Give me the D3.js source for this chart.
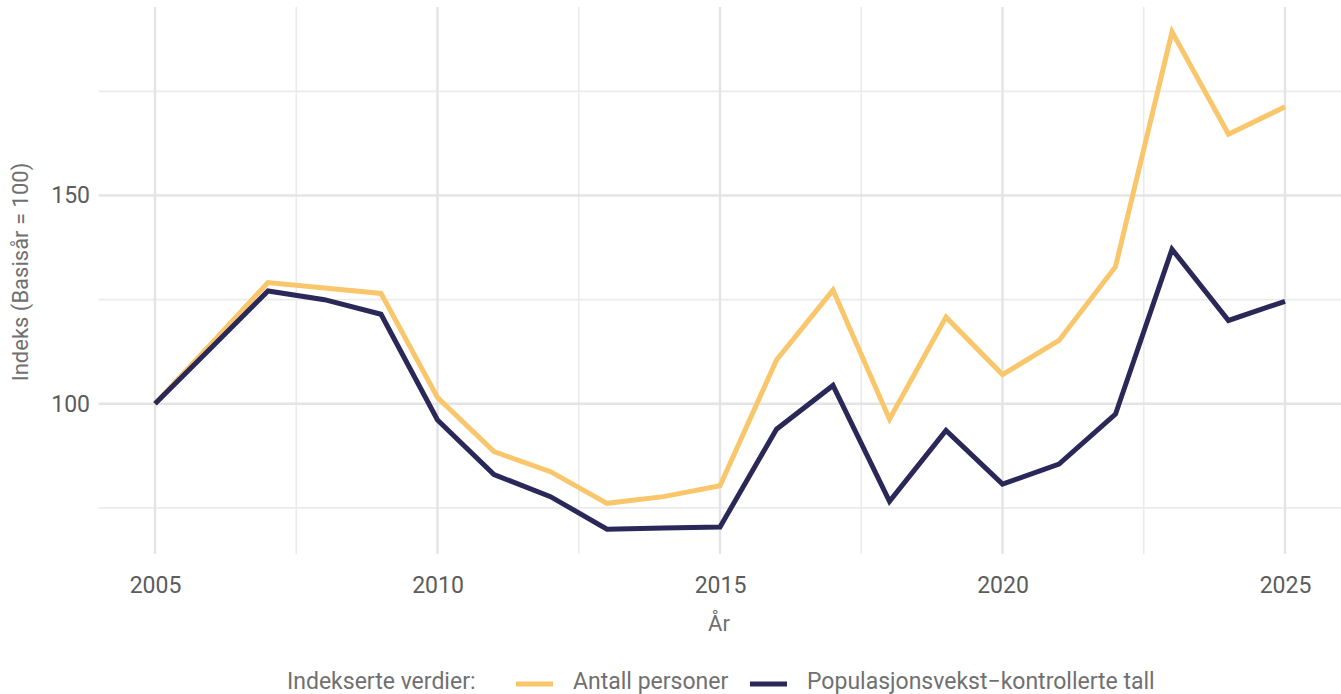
<!DOCTYPE html>
<html>
<head>
<meta charset="utf-8">
<script src="https://cdn.jsdelivr.net/npm/d3@7"></script>
<style>
  html, body { margin: 0; padding: 0; background: #ffffff; }
  svg { display: block; font-family: "Roboto", "Noto Sans", sans-serif; }
</style>
</head>
<body>
<svg id="chart" width="1341" height="694"></svg>
<script>
const years = [2005, 2006, 2007, 2008, 2009, 2010, 2011, 2012, 2013, 2014, 2015,
               2016, 2017, 2018, 2019, 2020, 2021, 2022, 2023, 2024, 2025];
const antallPersoner = [100, 114.5, 129.1, 127.8, 126.5, 101.5, 88.5, 83.7, 76.1, 77.7, 80.3,
                        110.5, 127.3, 96.3, 120.8, 107.0, 115.2, 132.9, 189.3, 164.7, 171.3];
const populasjonsKontrollert = [100, 113.5, 127.1, 125.0, 121.5, 96.1, 83.0, 77.7, 69.9, 70.2, 70.4,
                                93.9, 104.4, 76.6, 93.6, 80.7, 85.5, 97.5, 137.1, 120.0, 124.6];
const seriesNames = ["Antall personer", "Populasjonsvekst\u2212kontrollerte tall"];
const seriesColors = ["#F9C66B", "#2A2858"];
const xTicks = [2005, 2010, 2015, 2020, 2025];
const xMinor = [2007.5, 2012.5, 2017.5, 2022.5];
const yTicks = [100, 150];
const yMinor = [75, 125, 175];
const xTitle = "År";
const yTitle = "Indeks (Basisår = 100)";
const legendTitle = "Indekserte verdier:";

(function () {
const svg = d3.select("#chart");
const pLeft = 98.5, pRight = 1341.5, pTop = 7, pBottom = 554;

const all = antallPersoner.concat(populasjonsKontrollert);
const yMin = d3.min(all), yMax = d3.max(all);
const yPad = (yMax - yMin) * 0.05;
const x = d3.scaleLinear().domain([2005 - 1, 2025 + 1]).range([pLeft, pRight]);
const y = d3.scaleLinear().domain([yMin - yPad, yMax + yPad]).range([pBottom, pTop]);

const grid = svg.append("g");
grid.selectAll("line.ymin").data(yMinor).join("line")
  .attr("class", "ymin")
  .attr("x1", pLeft).attr("x2", pRight)
  .attr("y1", d => y(d)).attr("y2", d => y(d))
  .attr("stroke", "#ebebeb").attr("stroke-width", 1.6);
grid.selectAll("line.xmin").data(xMinor).join("line")
  .attr("class", "xmin")
  .attr("y1", pTop).attr("y2", pBottom)
  .attr("x1", d => x(d)).attr("x2", d => x(d))
  .attr("stroke", "#ebebeb").attr("stroke-width", 1.6);
grid.selectAll("line.ymaj").data(yTicks).join("line")
  .attr("class", "ymaj")
  .attr("x1", pLeft).attr("x2", pRight)
  .attr("y1", d => y(d)).attr("y2", d => y(d))
  .attr("stroke", "#e4e4e4").attr("stroke-width", 2.4);
grid.selectAll("line.xmaj").data(xTicks).join("line")
  .attr("class", "xmaj")
  .attr("y1", pTop).attr("y2", pBottom)
  .attr("x1", d => x(d)).attr("x2", d => x(d))
  .attr("stroke", "#e4e4e4").attr("stroke-width", 2.4);

const xAxis = d3.axisBottom(x).tickValues(xTicks).tickFormat(d3.format("d")).tickSize(0).tickPadding(0);
const gx = svg.append("g").attr("transform", `translate(0,577)`).call(xAxis);
gx.select(".domain").remove();
gx.attr("font-family", null).attr("font-size", null);
gx.selectAll("text").attr("font-size", 23).attr("fill", "#5c5c5c")
  .attr("dy", "0.71em").attr("y", 0);

const yAxis = d3.axisLeft(y).tickValues(yTicks).tickFormat(d3.format("d")).tickSize(0).tickPadding(0);
const gy = svg.append("g").attr("transform", `translate(${pLeft - 8.5},0)`).call(yAxis);
gy.select(".domain").remove();
gy.attr("font-family", null).attr("font-size", null);
gy.selectAll("text").attr("font-size", 23).attr("fill", "#5c5c5c");

svg.append("text").attr("x", (pLeft + pRight) / 2 - 1).attr("y", 631)
  .attr("text-anchor", "middle").attr("font-size", 22).attr("fill", "#707070").text(xTitle);
svg.append("text").attr("transform", `translate(28,272) rotate(-90)`)
  .attr("text-anchor", "middle").attr("font-size", 22).attr("fill", "#707070").text(yTitle);

const series = [antallPersoner, populasjonsKontrollert];
const line = d3.line().x((d, i) => x(years[i])).y(d => y(d));
svg.append("g").selectAll("path").data(series).join("path")
  .attr("d", d => line(d))
  .attr("fill", "none")
  .attr("stroke", (d, i) => seriesColors[i])
  .attr("stroke-width", 5)
  .attr("stroke-linejoin", "miter")
  .attr("stroke-miterlimit", 10);

const keyY = 684, textBase = 688.5;
const lg = svg.append("g");
lg.append("text").attr("x", 287).attr("y", textBase)
  .attr("font-size", 23).attr("fill", "#707070").text(legendTitle);
const keyX = [516, 750];
const labX = [573, 807];
seriesNames.forEach((name, i) => {
  lg.append("line").attr("x1", keyX[i]).attr("x2", keyX[i] + 37)
    .attr("y1", keyY).attr("y2", keyY)
    .attr("stroke", seriesColors[i]).attr("stroke-width", 5);
  lg.append("text").attr("x", labX[i]).attr("y", textBase)
    .attr("font-size", 23).attr("fill", "#707070").text(name);
});
})();
</script>
</body>
</html>
